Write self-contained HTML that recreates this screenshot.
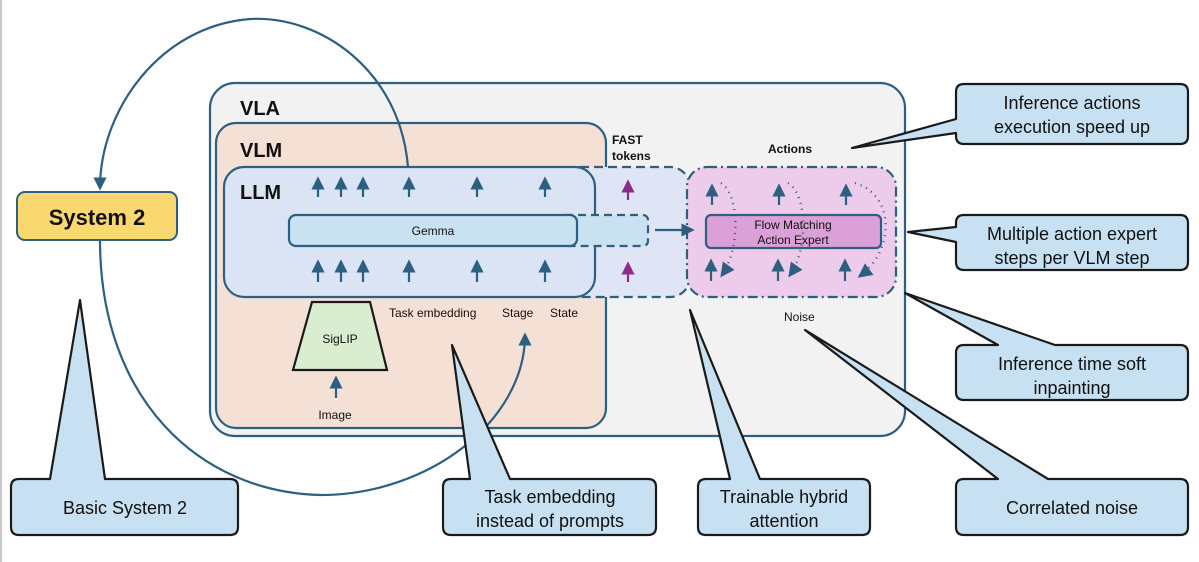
<!DOCTYPE html>
<html><head><meta charset="utf-8"><style>
html,body{margin:0;padding:0;background:#fff;}
svg{display:block;}
text{font-family:"Liberation Sans",Arial,sans-serif;}
</style></head><body>
<svg width="1199" height="562" viewBox="0 0 1199 562" xmlns="http://www.w3.org/2000/svg">
<defs>
<marker id="ah" viewBox="0 0 10 10" refX="8" refY="5" markerWidth="6" markerHeight="6" orient="auto"><path d="M0,0 L10,5 L0,10 z" fill="#2c5f80"/></marker>
<marker id="ap" viewBox="0 0 10 10" refX="8" refY="5" markerWidth="6" markerHeight="6" orient="auto"><path d="M0,0 L10,5 L0,10 z" fill="#8e2b8a"/></marker>
</defs>
<rect x="0" y="0" width="2" height="562" fill="#c8c8c8"/>
<g stroke="#2c5f80" stroke-width="2.2">
<rect x="210" y="83" width="695" height="353" rx="25" fill="#f2f2f2"/>
<rect x="216" y="123" width="390" height="305" rx="20" fill="#f5e0d5"/>
<rect x="560" y="167" width="130" height="130" rx="20" fill="#dfe5f5" stroke-dasharray="9,5"/>
<rect x="224" y="167" width="371" height="130" rx="20" fill="#dbe4f5"/>
<rect x="560" y="215" width="88" height="31" rx="5" fill="#c8e2f2" stroke-dasharray="8,5"/>
<rect x="289" y="215" width="288" height="31" rx="7" fill="#c8e2f2"/>
<rect x="687" y="167" width="209" height="130" rx="20" fill="#ecccea" stroke-dasharray="10,4,2,4"/>
<rect x="706" y="215" width="175" height="33" rx="5" fill="#dca0d8"/>
<polygon points="312,302 370,302 387,370 293,370" fill="#d9edd0" stroke="#1a1a1a"/>
</g>
<g fill="none" stroke="#2c5f80" stroke-width="2.2">
<path d="M655,230 L692,230" marker-end="url(#ah)"/>
<path d="M408,167 C400,70 320,15 250,19 C160,26 100,110 100,188" marker-end="url(#ah)"/>
<path d="M100,240 C100,400 200,492 320,495 C430,495 525,420 525,335" marker-end="url(#ah)"/>
<path d="M336,398 L336,378" marker-end="url(#ah)"/>
</g>
<g stroke="#2c5f80" stroke-width="2.2" fill="none">
<path d="M318,197 V179" marker-end="url(#ah)"/><path d="M341,197 V179" marker-end="url(#ah)"/><path d="M363,197 V179" marker-end="url(#ah)"/><path d="M409,197 V179" marker-end="url(#ah)"/><path d="M477,197 V179" marker-end="url(#ah)"/><path d="M545,197 V179" marker-end="url(#ah)"/>
<path d="M318,282 V262" marker-end="url(#ah)"/><path d="M341,282 V262" marker-end="url(#ah)"/><path d="M363,282 V262" marker-end="url(#ah)"/><path d="M409,282 V262" marker-end="url(#ah)"/><path d="M477,282 V262" marker-end="url(#ah)"/><path d="M545,282 V262" marker-end="url(#ah)"/>
<path d="M712,205 V186" marker-end="url(#ah)"/><path d="M779,205 V186" marker-end="url(#ah)"/><path d="M846,205 V186" marker-end="url(#ah)"/>
<path d="M711,281 V261" marker-end="url(#ah)"/><path d="M778,281 V261" marker-end="url(#ah)"/><path d="M845,281 V261" marker-end="url(#ah)"/>
<path d="M721,183 C740,195 740,250 722,275" stroke-dasharray="1,5" stroke-width="2.4" marker-end="url(#ah)"/>
<path d="M788,183 C808,195 808,250 790,275" stroke-dasharray="1,5" stroke-width="2.4" marker-end="url(#ah)"/>
<path d="M855,183 C895,195 895,250 860,276" stroke-dasharray="1,5" stroke-width="2.4" marker-end="url(#ah)"/>
</g>
<g stroke="#8e2b8a" stroke-width="2.2"><path d="M628,200 V182" marker-end="url(#ap)"/><path d="M628,282 V264" marker-end="url(#ap)"/></g>
<rect x="17" y="192" width="160" height="48" rx="8" fill="#f9d870" stroke="#2c5f80" stroke-width="2"/>
<text x="97" y="225" font-size="22" font-weight="bold" text-anchor="middle" fill="#111">System 2</text>
<g fill="#c7e1f3" stroke="#1a1a1a" stroke-width="2.2" stroke-linejoin="round">
<path d="M19,479 H50 L80,300 L105,479 H230 Q238,479 238,487 V527 Q238,535 230,535 H19 Q11,535 11,527 V487 Q11,479 19,479 Z"/>
<path d="M451,479 H470 L452,345 L510,479 H648 Q656,479 656,487 V527 Q656,535 648,535 H451 Q443,535 443,527 V487 Q443,479 451,479 Z"/>
<path d="M706,479 H730 L690,310 L760,479 H862 Q870,479 870,487 V527 Q870,535 862,535 H706 Q698,535 698,527 V487 Q698,479 706,479 Z"/>
<path d="M964,479 H998 L805,330 L1048,479 H1180 Q1188,479 1188,487 V527 Q1188,535 1180,535 H964 Q956,535 956,527 V487 Q956,479 964,479 Z"/>
<path d="M964,345 H998 L905,293 L1055,345 H1180 Q1188,345 1188,353 V392 Q1188,400 1180,400 H964 Q956,400 956,392 V353 Q956,345 964,345 Z"/>
<path d="M964,215 H1180 Q1188,215 1188,223 V262 Q1188,270 1180,270 H964 Q956,270 956,262 V242 L908,232 L956,227 V223 Q956,215 964,215 Z"/>
<path d="M964,84 H1180 Q1188,84 1188,92 V136 Q1188,144 1180,144 H964 Q956,144 956,136 V133 L852,148 L956,119 V92 Q956,84 964,84 Z"/>
</g>
<g font-size="18" fill="#111" text-anchor="middle">
<text x="125" y="514">Basic System 2</text>
<text x="550" y="503">Task embedding</text><text x="550" y="527">instead of prompts</text>
<text x="784" y="503">Trainable hybrid</text><text x="784" y="527">attention</text>
<text x="1072" y="514">Correlated noise</text>
<text x="1072" y="370">Inference time soft</text><text x="1072" y="394">inpainting</text>
<text x="1072" y="240">Multiple action expert</text><text x="1072" y="264">steps per VLM step</text>
<text x="1072" y="109">Inference actions</text><text x="1072" y="133">execution speed up</text>
</g>
<g font-weight="bold" font-size="20" fill="#111">
<text x="240" y="115">VLA</text><text x="240" y="157">VLM</text><text x="240" y="199">LLM</text>
</g>
<g font-size="12" fill="#111">
<text x="433" y="235" text-anchor="middle">Gemma</text>
<text x="793" y="229" text-anchor="middle">Flow Matching</text>
<text x="793" y="244" text-anchor="middle">Action Expert</text>
<text x="340" y="343" text-anchor="middle">SigLIP</text>
<text x="335" y="419" text-anchor="middle">Image</text>
<text x="389" y="317">Task embedding</text>
<text x="502" y="317">Stage</text>
<text x="550" y="317">State</text>
<text x="784" y="321">Noise</text>
<text x="612" y="144" font-weight="bold">FAST</text>
<text x="612" y="160" font-weight="bold">tokens</text>
<text x="790" y="153" font-weight="bold" text-anchor="middle">Actions</text>
</g>
</svg>
</body></html>
